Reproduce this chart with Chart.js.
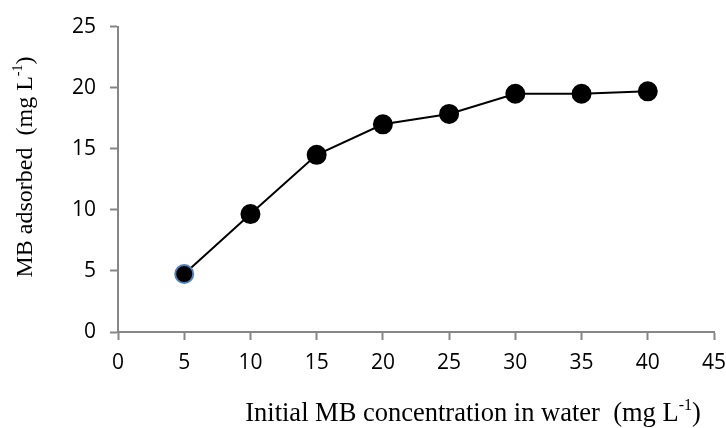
<!DOCTYPE html>
<html>
<head>
<meta charset="utf-8">
<script src="https://cdn.jsdelivr.net/npm/chart.js@4/dist/chart.umd.min.js"></script>
<style>
  html, body { margin: 0; padding: 0; background: #fff; }
  #wrap { width: 726px; height: 428px; }
</style>
</head>
<body>
<div id="wrap"><canvas id="myChart" width="726" height="428"></canvas></div>
<script>
// data
const concentrations = [5, 10, 15, 20, 25, 30, 35, 40];
const adsorbed = [4.75, 9.65, 14.5, 17.0, 17.85, 19.5, 19.5, 19.7];
const xTicks = [0, 5, 10, 15, 20, 25, 30, 35, 40, 45];
const yTicks = [0, 5, 10, 15, 20, 25];

const axisGray = '#868686';
const tickFont = { family: 'Open Sans', size: 21 };

// axis titles with a real superscript, drawn by hand
const titlePlugin = {
  id: 'titles',
  afterDraw(chart) {
    const ctx = chart.ctx;
    const drawSup = (x, y, size, main, sup, tail) => {
      ctx.font = size + 'px "Liberation Serif"';
      const w1 = ctx.measureText(main).width;
      ctx.font = Math.round(size * 0.6) + 'px "Liberation Serif"';
      const w2 = ctx.measureText(sup).width;
      ctx.font = size + 'px "Liberation Serif"';
      const w3 = ctx.measureText(tail).width;
      let left = x - (w1 + w2 + w3) / 2;
      ctx.fillStyle = '#000';
      ctx.textBaseline = 'alphabetic';
      ctx.textAlign = 'left';
      ctx.fillText(main, left, y);
      ctx.font = Math.round(size * 0.6) + 'px "Liberation Serif"';
      ctx.fillText(sup, left + w1, y - size * 0.42);
      ctx.font = size + 'px "Liberation Serif"';
      ctx.fillText(tail, left + w1 + w2, y);
    };
    ctx.save();
    drawSup(473, 421, 26.5, 'Initial MB concentration in water  (mg L', '-1', ')');
    ctx.restore();

    ctx.save();
    ctx.translate(32, 167);
    ctx.rotate(-Math.PI / 2);
    drawSup(0, 0, 24, 'MB adsorbed  (mg L', '-1', ')');
    ctx.restore();
  }
};

new Chart(document.getElementById('myChart').getContext('2d'), {
  type: 'scatter',
  data: {
    datasets: [{
      label: 'MB adsorbed',
      data: concentrations.map((c, i) => ({ x: c, y: adsorbed[i] })),
      showLine: true,
      borderColor: '#000',
      borderWidth: 2,
      pointRadius: 9,
      pointHoverRadius: 9,
      pointBackgroundColor: '#000',
      pointBorderColor: concentrations.map((c, i) => i === 0 ? '#4f81bd' : '#000'),
      pointBorderWidth: 2
    }]
  },
  options: {
    responsive: false,
    animation: false,
    layout: { padding: { top: 24, right: 0, left: 0, bottom: 0 } },
    plugins: {
      legend: { display: false },
      tooltip: { enabled: false }
    },
    scales: {
      x: {
        type: 'linear',
        min: 0,
        max: 45,
        afterBuildTicks: (s) => { s.ticks = xTicks.map(v => ({ value: v })); },
        ticks: { font: tickFont, color: '#000', padding: 10, maxRotation: 0 },
        grid: { drawOnChartArea: false, tickLength: 8, tickColor: axisGray, tickWidth: 2 },
        border: { color: axisGray, width: 2 },
        afterFit: (s) => { s.height = 96; s.paddingRight = 12; s.paddingLeft = 0; }
      },
      y: {
        min: 0,
        max: 25,
        afterBuildTicks: (s) => { s.ticks = yTicks.map(v => ({ value: v })); },
        ticks: { font: tickFont, color: '#000', padding: 14 },
        grid: { drawOnChartArea: false, tickLength: 8, tickColor: axisGray, tickWidth: 2 },
        border: { color: axisGray, width: 2 },
        afterFit: (s) => { s.width = 118; }
      }
    }
  },
  plugins: [titlePlugin]
});
</script>
</body>
</html>
